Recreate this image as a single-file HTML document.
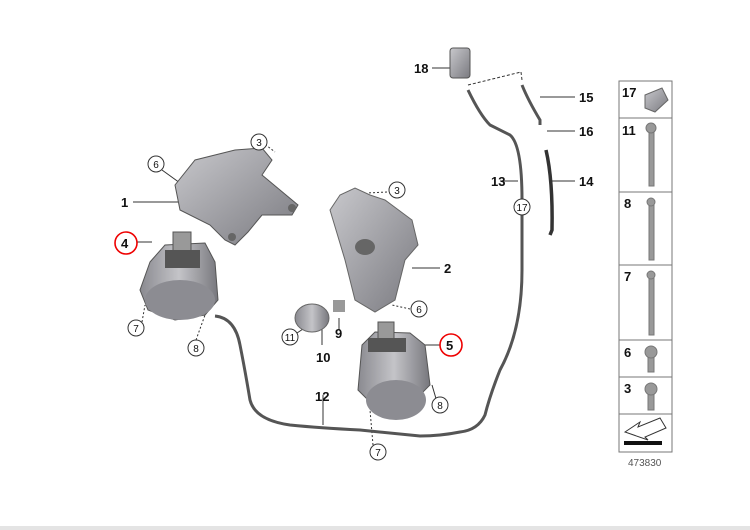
<!DOCTYPE html>
<html><head><meta charset="utf-8"><style>
html,body{margin:0;padding:0;background:#fff;}
svg{display:block;font-family:"Liberation Sans",sans-serif;}
.n{font-weight:bold;font-size:13px;fill:#111;}
.c{font-size:10px;fill:#111;}
</style></head><body>
<svg width="750" height="530" viewBox="0 0 750 530">
<defs>
<linearGradient id="g" x1="0" y1="0" x2="1" y2="1"><stop offset="0" stop-color="#c8c8cc"/><stop offset="1" stop-color="#7a7a80"/></linearGradient>
<linearGradient id="g2" x1="0" y1="0" x2="1" y2="0"><stop offset="0" stop-color="#8a8a90"/><stop offset=".5" stop-color="#c4c4c8"/><stop offset="1" stop-color="#77777d"/></linearGradient>
</defs>
<rect x="0" y="526" width="750" height="4" fill="#e4e4e4"/>
<g stroke="#333" stroke-width="1" fill="none">
<!-- leader lines -->
<line x1="133" y1="202" x2="185" y2="202"/>
<line x1="162" y1="170" x2="180" y2="183"/>
<line x1="262" y1="142" x2="275" y2="152" stroke-dasharray="2,2"/>
<line x1="137" y1="242" x2="152" y2="242"/>
<line x1="142" y1="322" x2="145" y2="305" stroke-dasharray="2,2"/>
<line x1="196" y1="340" x2="205" y2="315" stroke-dasharray="2,2"/>
<line x1="387" y1="192" x2="367" y2="193" stroke-dasharray="2,2"/>
<line x1="440" y1="268" x2="412" y2="268"/>
<line x1="410" y1="309" x2="392" y2="305" stroke-dasharray="2,2"/>
<line x1="339" y1="318" x2="339" y2="330"/>
<line x1="322" y1="317" x2="322" y2="345"/>
<line x1="297" y1="333" x2="309" y2="325"/>
<line x1="440" y1="345" x2="425" y2="345"/>
<line x1="437" y1="402" x2="432" y2="385"/>
<line x1="373" y1="445" x2="370" y2="410" stroke-dasharray="2,2"/>
<line x1="323" y1="395" x2="323" y2="425"/>
<line x1="432" y1="68" x2="450" y2="68"/>
<line x1="540" y1="97" x2="575" y2="97"/>
<line x1="547" y1="131" x2="575" y2="131"/>
<line x1="518" y1="181" x2="500" y2="181"/>
<line x1="552" y1="181" x2="575" y2="181"/>
<line x1="468" y1="85" x2="521" y2="72" stroke-dasharray="3,2"/>
<line x1="521" y1="72" x2="522" y2="80" stroke-dasharray="3,2"/>
</g>
<!-- hoses -->
<path d="M468 90 Q480 115 490 125 Q500 130 510 135 Q522 145 522 200 L522 270 Q522 330 500 370 Q490 395 485 415 Q478 430 460 432 Q440 436 420 436 L360 430 Q320 428 290 425 Q255 420 250 400 Q245 370 240 345 Q235 318 215 316" stroke="#555" stroke-width="3" fill="none"/>
<path d="M522 85 Q528 100 540 120 L540 125" stroke="#555" stroke-width="3" fill="none"/>
<path d="M546 150 Q553 180 552 230 L550 235" stroke="#333" stroke-width="3.5" fill="none"/>
<rect x="450" y="48" width="20" height="30" rx="3" fill="url(#g)" stroke="#555"/>
<!-- part 1 bracket -->
<path d="M175 185 L195 160 L235 150 L262 148 L272 160 L262 175 L280 190 L298 205 L292 215 L262 215 L248 232 L235 245 L225 240 L210 225 L180 210 Z" fill="url(#g)" stroke="#555"/>
<circle cx="292" cy="208" r="4" fill="#666"/><circle cx="232" cy="237" r="4" fill="#666"/>
<!-- part 4 mount -->
<path d="M150 262 L165 245 L205 243 L215 262 L218 300 L205 315 L175 320 L148 310 L140 290 Z" fill="url(#g2)" stroke="#555"/>
<rect x="173" y="232" width="18" height="25" fill="#999" stroke="#555"/>
<rect x="165" y="250" width="35" height="18" fill="#555"/>
<ellipse cx="180" cy="300" rx="35" ry="20" fill="#8c8c92"/>
<!-- part 2 bracket -->
<path d="M330 210 L340 195 L355 188 L370 195 L385 200 L412 220 L418 245 L405 260 L395 300 L375 312 L355 300 L345 260 Z" fill="url(#g)" stroke="#666"/>
<ellipse cx="365" cy="247" rx="10" ry="8" fill="#666"/>
<!-- 10,9 -->
<ellipse cx="312" cy="318" rx="17" ry="14" fill="url(#g2)" stroke="#666"/>
<rect x="333" y="300" width="12" height="12" fill="#999"/>
<!-- part 5 mount -->
<path d="M362 345 L375 332 L410 333 L425 345 L430 385 L415 400 L370 402 L358 390 Z" fill="url(#g2)" stroke="#555"/>
<rect x="378" y="322" width="16" height="22" fill="#999" stroke="#555"/>
<rect x="368" y="338" width="38" height="14" fill="#555"/>
<ellipse cx="396" cy="400" rx="30" ry="20" fill="#8c8c92"/>
<!-- red circles -->
<circle cx="126" cy="243" r="11" fill="none" stroke="#e00" stroke-width="1.6"/>
<circle cx="451" cy="345" r="11" fill="none" stroke="#e00" stroke-width="1.6"/>
<!-- labels -->
<text class="n" x="121" y="207">1</text>
<text class="n" x="444" y="273">2</text>
<text class="n" x="121" y="248">4</text>
<text class="n" x="446" y="350">5</text>
<text class="n" x="316" y="362">10</text>
<text class="n" x="335" y="338">9</text>
<text class="n" x="315" y="401">12</text>
<text class="n" x="491" y="186">13</text>
<text class="n" x="579" y="186">14</text>
<text class="n" x="579" y="102">15</text>
<text class="n" x="579" y="136">16</text>
<text class="n" x="414" y="73">18</text>
<g fill="#fff" stroke="#333">
<circle cx="156" cy="164" r="8"/><circle cx="259" cy="142" r="8"/><circle cx="397" cy="190" r="8"/>
<circle cx="136" cy="328" r="8"/><circle cx="196" cy="348" r="8"/><circle cx="419" cy="309" r="8"/>
<circle cx="290" cy="337" r="8"/><circle cx="440" cy="405" r="8"/><circle cx="378" cy="452" r="8"/>
<circle cx="522" cy="207" r="8"/>
</g>
<text class="c" x="156" y="168" text-anchor="middle">6</text>
<text class="c" x="259" y="146" text-anchor="middle">3</text>
<text class="c" x="397" y="194" text-anchor="middle">3</text>
<text class="c" x="136" y="332" text-anchor="middle">7</text>
<text class="c" x="196" y="352" text-anchor="middle">8</text>
<text class="c" x="419" y="313" text-anchor="middle">6</text>
<text class="c" x="290" y="341" text-anchor="middle">11</text>
<text class="c" x="440" y="409" text-anchor="middle">8</text>
<text class="c" x="378" y="456" text-anchor="middle">7</text>
<text class="c" x="522" y="211" text-anchor="middle">17</text>
<!-- sidebar -->
<g stroke="#777" fill="none" stroke-width="1">
<rect x="619" y="81" width="53" height="371"/>
<line x1="619" y1="118" x2="672" y2="118"/><line x1="619" y1="192" x2="672" y2="192"/>
<line x1="619" y1="265" x2="672" y2="265"/><line x1="619" y1="340" x2="672" y2="340"/>
<line x1="619" y1="377" x2="672" y2="377"/><line x1="619" y1="414" x2="672" y2="414"/>
</g>
<text class="n" x="622" y="97">17</text><text class="n" x="622" y="135">11</text>
<text class="n" x="624" y="208">8</text><text class="n" x="624" y="281">7</text>
<text class="n" x="624" y="357">6</text><text class="n" x="624" y="393">3</text>
<path d="M645 95 L662 88 L668 100 L655 112 L645 108 Z" fill="url(#g)" stroke="#666"/>
<g fill="#999" stroke="#777">
<rect x="649" y="130" width="5" height="56"/><circle cx="651" cy="128" r="5"/>
<rect x="649" y="204" width="5" height="56"/><circle cx="651" cy="202" r="4"/>
<rect x="649" y="277" width="5" height="58"/><circle cx="651" cy="275" r="4"/>
<rect x="648" y="355" width="6" height="17"/><circle cx="651" cy="352" r="6"/>
<rect x="648" y="392" width="6" height="18"/><circle cx="651" cy="389" r="6"/>
</g>
<path d="M625 432 L640 422 L638 427 L660 418 L666 428 L645 437 L648 440 Z" fill="#fff" stroke="#333"/>
<rect x="624" y="441" width="38" height="4" fill="#111"/>
<text x="628" y="466" font-size="10" fill="#555">473830</text>
</svg>
</body></html>
